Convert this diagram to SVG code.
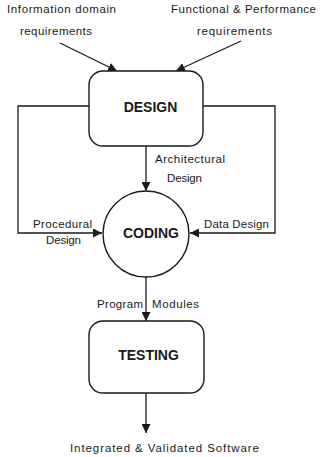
<svg xmlns="http://www.w3.org/2000/svg" width="321" height="457" viewBox="0 0 321 457">
<style>
  .lbl { font-family: "Liberation Sans", Arial, sans-serif; font-size: 11.5px; fill: #1a1a1a; }
  .title { font-family: "Liberation Sans", Arial, sans-serif; font-size: 14px; font-weight: bold; fill: #1a1a1a; text-anchor: middle; }
  .shape { fill: #ffffff; stroke: #1a1a1a; stroke-width: 1.4; }
  .wire { fill: none; stroke: #1a1a1a; stroke-width: 1.3; }
</style>
<defs>
  <marker id="arrow" viewBox="0 0 10 10" refX="10" refY="5" markerWidth="9" markerHeight="9" markerUnits="userSpaceOnUse" orient="auto">
    <path d="M0,0 L10,5 L0,10 z" fill="#1a1a1a"/>
  </marker>
</defs>
<rect width="321" height="457" fill="#ffffff"/>

<g id="connectors">
  <line class="wire" x1="60" y1="43" x2="117" y2="71" marker-end="url(#arrow)"/>
  <line class="wire" x1="241" y1="41" x2="176" y2="71" marker-end="url(#arrow)"/>
  <line class="wire" x1="146" y1="146" x2="146" y2="191" marker-end="url(#arrow)"/>
  <polyline class="wire" points="89,106 18,106 18,233 102,233" marker-end="url(#arrow)"/>
  <polyline class="wire" points="203,106 275,106 275,233 190,233" marker-end="url(#arrow)"/>
  <line class="wire" x1="146" y1="277" x2="146" y2="321" marker-end="url(#arrow)"/>
  <line class="wire" x1="146" y1="393" x2="146" y2="433" marker-end="url(#arrow)"/>
</g>

<g id="inputs">
  <text class="lbl" x="7" y="13" textLength="109" lengthAdjust="spacing">Information domain</text>
  <text class="lbl" x="20" y="35" textLength="72" lengthAdjust="spacing">requirements</text>
  <text class="lbl" x="171" y="13" textLength="145" lengthAdjust="spacing">Functional &amp; Performance</text>
  <text class="lbl" x="197" y="35" textLength="75" lengthAdjust="spacing">requirements</text>
</g>

<g id="design">
  <rect class="shape" x="89" y="71" width="114" height="75" rx="14"/>
  <text class="title" x="150.5" y="112">DESIGN</text>
</g>

<g id="coding">
  <circle class="shape" cx="146" cy="234" r="43"/>
  <text class="title" x="151" y="238">CODING</text>
</g>

<g id="testing">
  <rect class="shape" x="89" y="321" width="115" height="72" rx="14"/>
  <text class="title" x="148.5" y="360">TESTING</text>
</g>

<g id="labels">
  <text class="lbl" x="155" y="163" textLength="70" lengthAdjust="spacing">Architectural</text>
  <text class="lbl" x="167" y="182" textLength="35" lengthAdjust="spacing">Design</text>
  <text class="lbl" x="33" y="228" textLength="59" lengthAdjust="spacing">Procedural</text>
  <text class="lbl" x="46" y="244" textLength="35" lengthAdjust="spacing">Design</text>
  <text class="lbl" x="204" y="228" textLength="65" lengthAdjust="spacing">Data Design</text>
  <text class="lbl" x="97" y="308" textLength="46" lengthAdjust="spacing">Program</text>
  <text class="lbl" x="152" y="308" textLength="47" lengthAdjust="spacing">Modules</text>
  <text class="lbl" x="70" y="452" textLength="189" lengthAdjust="spacing">Integrated &amp; Validated Software</text>
</g>
</svg>
